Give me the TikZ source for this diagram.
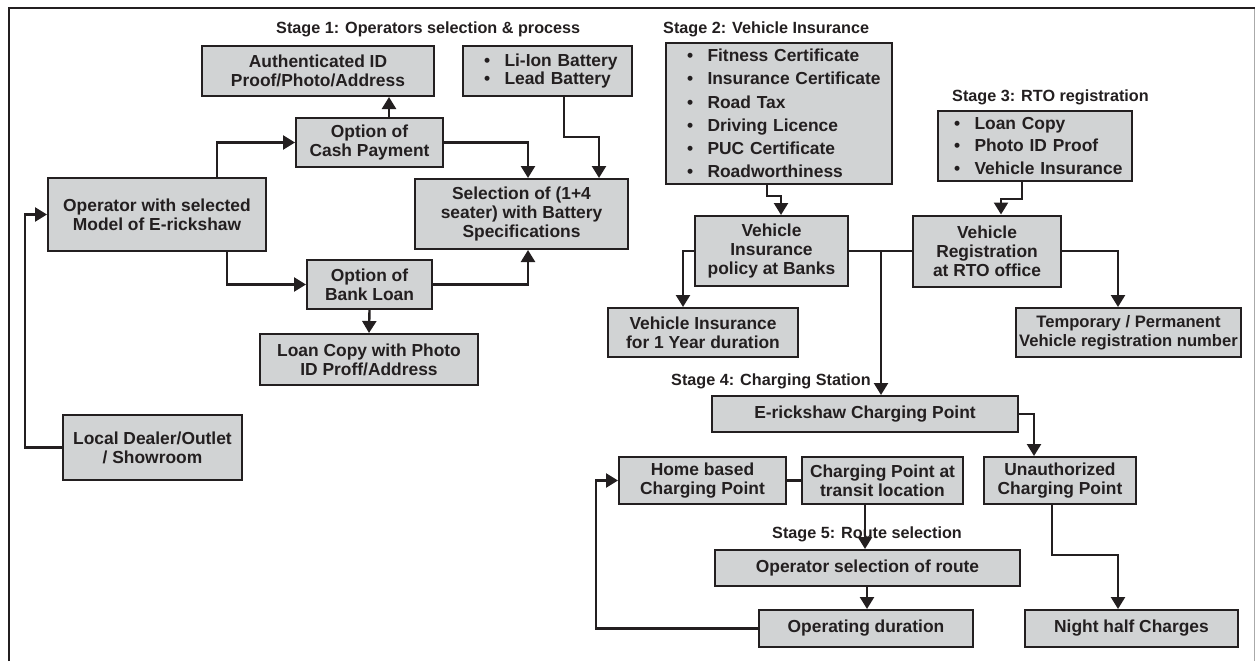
\documentclass[tikz,border=0pt]{standalone}
\usepackage{fontspec}
\setmainfont{Liberation Sans}
\usetikzlibrary{arrows.meta}
\definecolor{ink}{RGB}{35,31,32}
\definecolor{boxgray}{RGB}{209,211,212}
\definecolor{rulegray}{RGB}{170,170,170}
% one bulleted line inside a list box
\newcommand{\bitem}[1]{\mbox{\makebox[20.5pt][l]{\textbullet}#1}}

\begin{document}
\begin{tikzpicture}[x=1pt,y=-1pt,
  box/.style={draw=ink, fill=boxgray, line width=2pt, inner sep=0pt,
    align=center, text=ink, font=\fontsize{17.4}{19}\selectfont\bfseries},
  listbox/.style={box, align=left},
  link/.style={draw=ink, line width=2.4pt},
  arr/.style={link, -{Triangle[width=14pt,length=12pt]}},
  stage/.style={inner sep=0pt, anchor=base west, text=ink,
    font=\fontsize{16.2}{19}\selectfont\bfseries}]

\useasboundingbox (0,0) rectangle (1255,661);

% frame
\draw[rulegray, line width=1pt] (1254,8) -- (1254,661);
\draw[ink, line width=2.5pt] (9,661) -- (9,8) -- (1255,8);

% stage headings
\node[stage] (t1) at (276,34) {Stage 1: Operators selection \& process};
\node[stage] (t2) at (663,34) {Stage 2: Vehicle Insurance};
\node[stage] (t3) at (952,101) {Stage 3: RTO registration};
\node[stage] (t4) at (671,385) {Stage 4: Charging Station};
\node[stage] (t5) at (772,538) {Stage 5: Route selection};

% stage 1
\node[box, minimum width=232pt, minimum height=50pt] (auth) at (318,71)
  {Authenticated ID\\Proof/Photo/Address};
\node[box, minimum width=147pt, minimum height=49pt] (cash) at (369.5,142.5)
  {Option of\\Cash Payment};
\node[box, minimum width=218pt, minimum height=73pt] (oper) at (157,214.5)
  {Operator with selected\\Model of E-rickshaw};
\node[box, minimum width=125pt, minimum height=49pt] (bank) at (369.5,284.5)
  {Option of\\Bank Loan};
\node[box, minimum width=218pt, minimum height=51pt] (loan) at (369,359.5)
  {Loan Copy with Photo\\ID Proff/Address};
\node[box, minimum width=179pt, minimum height=65pt] (dealer) at (152.5,447.5)
  {Local Dealer/Outlet\\/ Showroom};
\node[listbox, inner xsep=21pt, text width=127pt, minimum height=50pt,
  font=\fontsize{17.4}{18.6}\selectfont\bfseries] (batt) at (547.5,71)
  {\bitem{Li-Ion Battery}\\\bitem{Lead Battery}};
\node[box, minimum width=213pt, minimum height=70pt] (sel) at (521.5,214)
  {Selection of (1+4\\seater) with Battery\\Specifications};

% stage 2
\node[listbox, inner xsep=21pt, text width=184pt, minimum height=141pt,
  font=\fontsize{17.4}{23.2}\selectfont\bfseries] (docs) at (779,113.5)
  {\bitem{Fitness Certificate}\\\bitem{Insurance Certificate}\\\bitem{Road Tax}\\
   \bitem{Driving Licence}\\\bitem{PUC Certificate}\\\bitem{Roadworthiness}};
\node[box, minimum width=153pt, minimum height=70pt] (policy) at (771.5,251)
  {Vehicle\\Insurance\\policy at Banks};
\node[box, minimum width=190pt, minimum height=49pt] (year) at (703,332.5)
  {Vehicle Insurance\\for 1 Year duration};

% stage 3
\node[listbox, inner xsep=16pt, text width=162pt, minimum height=70pt,
  font=\fontsize{17.4}{22.5}\selectfont\bfseries] (rtodocs) at (1035,146)
  {\bitem{Loan Copy}\\\bitem{Photo ID Proof}\\\bitem{Vehicle Insurance}};
\node[box, minimum width=148pt, minimum height=71pt] (reg) at (987,251)
  {Vehicle\\Registration\\at RTO office};
\node[box, minimum width=225pt, minimum height=49pt,
  font=\fontsize{16.6}{19}\selectfont\bfseries] (regno) at (1128.5,332.5)
  {Temporary / Permanent\\Vehicle registration number};

% stage 4
\node[box, minimum width=306pt, minimum height=36pt] (echarge) at (865,414)
  {E-rickshaw Charging Point};
\node[box, minimum width=167pt, minimum height=47pt] (home) at (702.5,480.5)
  {Home based\\Charging Point};
\node[box, minimum width=161pt, minimum height=47pt] (transit) at (882.5,480.5)
  {Charging Point at\\transit location};
\node[box, minimum width=152pt, minimum height=47pt] (unauth) at (1060,480.5)
  {Unauthorized\\Charging Point};
\node[box, minimum width=213pt, minimum height=37pt] (night) at (1131.5,628.5)
  {Night half Charges};

% stage 5
\node[box, minimum width=305pt, minimum height=36pt] (route) at (867.5,568)
  {Operator selection of route};
\node[box, minimum width=214pt, minimum height=37pt] (duration) at (866,628.5)
  {Operating duration};

% bend columns and corners of the connectors
\coordinate (xa) at (389,0);
\coordinate (xb) at (217,0);
\coordinate (xc) at (227,0);
\coordinate (xe) at (25,0);
\coordinate (xf) at (528,0);
\coordinate (xg) at (564,0);
\coordinate (cg) at (599,137);
\coordinate (xi) at (767,0);
\coordinate (ci) at (781,196);
\coordinate (xj) at (683,0);
\coordinate (xk) at (881,0);
\coordinate (xm) at (1022,0);
\coordinate (cm) at (1001,199);
\coordinate (xn) at (1118,0);
\coordinate (xo) at (1034,0);
\coordinate (xq) at (865,0);
\coordinate (xr) at (867,0);
\coordinate (xs) at (596,0);
\coordinate (xt) at (1052,0);
\coordinate (ct) at (1118,555);

% stage 1 connectors
\draw[arr] (cash.north -| xa) -- (auth.south -| xa);
\draw[arr] (oper.north -| xb) |- (cash.west);
\draw[arr] (oper.south -| xc) |- (bank.west);
\draw[arr] (bank.south) -- (loan.north);
\draw[arr] (dealer.west) -- (dealer.west -| xe) |- (oper.west);
\draw[arr] (cash.east) -| (sel.north -| xf);
\draw[arr] (batt.south -| xg) |- (cg) -- (sel.north -| cg);
\draw[arr] (bank.east) -| (sel.south -| xf);

% stage 2 and 3 connectors
\draw[arr] (docs.south -| xi) |- (ci) -- (policy.north -| ci);
\draw[arr] (policy.west) -| (year.north -| xj);
\draw[link] (policy.east) -- (reg.west);
\draw[arr] (policy.east -| xk) -- (echarge.north -| xk);
\draw[arr] (rtodocs.south -| xm) |- (cm) -- (reg.north -| cm);
\draw[arr] (reg.east) -| (regno.north -| xn);

% stage 4 and 5 connectors
\draw[arr] (echarge.east) -| (unauth.north -| xo);
\draw[link] (home.east) -- (transit.west);
\draw[arr] (transit.south -| xq) -- (route.north -| xq);
\draw[arr] (route.south -| xr) -- (duration.north -| xr);
\draw[arr] (duration.west) -- (duration.west -| xs) |- (home.west);
\draw[arr] (unauth.south -| xt) |- (ct) -- (night.north -| ct);

\end{tikzpicture}
\end{document}
